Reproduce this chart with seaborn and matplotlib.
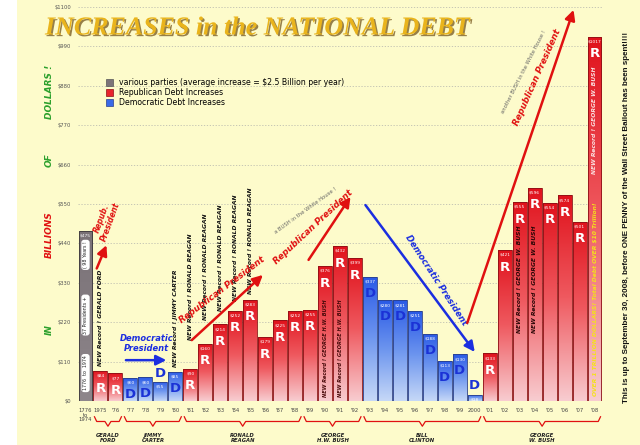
import numpy as np
import pandas as pd
import matplotlib
matplotlib.use("Agg")
import matplotlib.pyplot as plt
import matplotlib.patheffects as pe
import seaborn as sns
from matplotlib.colors import LinearSegmentedColormap
from matplotlib.patches import Patch, Rectangle
from matplotlib.transforms import blended_transform_factory

# ---- data (billions of dollars) ----
years = ["1776\nto\n1974", "1975", "'76", "'77", "'78", "'79", "'80", "'81", "'82", "'83",
         "'84", "'85", "'86", "'87", "'88", "'89", "'90", "'91", "'92", "'93", "'94",
         "'95", "'96", "'97", "'98", "'99", "2000", "'01", "'02", "'03", "'04", "'05",
         "'06", "'07", "'08"]
increase = [475, 84, 77, 64, 66, 54, 81, 90, 160, 214, 252, 283, 179, 225, 252, 255,
            376, 432, 399, 347, 281, 281, 251, 188, 113, 130, 18, 133, 421, 555, 596,
            554, 574, 501, 1017]
party = ["V"] + ["R"] * 2 + ["D"] * 4 + ["R"] * 12 + ["D"] * 8 + ["R"] * 8
value_labels = ["$475", "$84", "$77", "$60", "$60", "$55", "$85", "$90", "$160", "$214",
                "$252", "$283", "$179", "$225", "$252", "$255", "$376", "$432", "$399",
                "$337", "$280", "$281", "$251", "$188", "$113", "$130", "$18", "$133",
                "$421", "$555", "$596", "$554", "$574", "$501", "$1017"]
presidents = ["GERALD\nFORD", "JIMMY\nCARTER", "RONALD\nREAGAN", "GEORGE\nH.W. BUSH",
              "BILL\nCLINTON", "GEORGE\nW. BUSH"]
terms = [(1, 2), (3, 6), (7, 14), (15, 18), (19, 26), (27, 34)]
yticks = list(range(0, 1101, 110))
reagan_note_base = [170, 226, 250, 280, 300]

df = pd.DataFrame({"year": years, "increase": increase, "party": party})

BG = "#fdfbcb"
gradients = {
    "R": ["#f8ccd0", "#ef5a60", "#e0121c"],
    "D": ["#c6d8f7", "#6f97ef", "#2a5ae6"],
    "V": ["#8e868b", "#7a7277"],
}
edges = {"R": "#8b1015", "D": "#2a3f8a", "V": "#3c383a"}

fig = plt.figure(figsize=(6.4, 4.45), dpi=100, facecolor=BG)
fig.patches.append(Rectangle((0, 0), 17 / 640, 1, transform=fig.transFigure,
                             facecolor="white", edgecolor="none", zorder=0))
ax = fig.add_axes([78 / 640, 44 / 445, 524 / 640, 394 / 445])
ax.set_facecolor(BG)

sns.barplot(data=df, x="year", y="increase", hue="party", order=years,
            palette={"R": "#e0121c", "D": "#2a5ae6", "V": "#7a7277"},
            dodge=False, width=0.93, legend=False, ax=ax, zorder=3)

for patch in list(ax.patches):
    x0, w, h = patch.get_x(), patch.get_width(), patch.get_height()
    if np.isnan(h) or h <= 0:
        continue
    i = int(round(x0 + w / 2))
    p = party[i]
    cmap = LinearSegmentedColormap.from_list(p, gradients[p])
    img = ax.imshow(np.linspace(0, 1, 128).reshape(-1, 1), extent=[x0, x0 + w, 0, h],
                    origin="lower", cmap=cmap, aspect="auto", zorder=2.5)
    img.set_clip_path(patch)
    patch.set_facecolor("none")
    patch.set_edgecolor(edges[p])
    patch.set_linewidth(0.6)

ax.set_xlim(-0.5, len(years) - 0.5)
ax.set_ylim(0, 1100)
ax.set_yticks(yticks)
ax.set_yticklabels([f"${v}" for v in yticks], fontsize=3.8, color="#555555")
ax.set_xticks(range(len(years)))
ax.set_xticklabels(years, fontsize=3.8, color="#444444", linespacing=0.9)
ax.tick_params(length=0, pad=5)
ax.set_xlabel("")
ax.set_ylabel("")
for s in ax.spines.values():
    s.set_visible(False)
ax.yaxis.grid(True, linestyle=(0, (1.5, 2)), color="#bdbdb0", linewidth=0.6, zorder=0)
ax.set_axisbelow(True)

# value labels and party letters
for i, (v, lab, p) in enumerate(zip(increase, value_labels, party)):
    ax.text(i, v - 13, lab, ha="center", va="center", fontsize=3.2, color="white",
            zorder=5)
    if p == "R":
        ax.text(i, v - 48, "R", ha="center", va="center", fontsize=9.5,
                fontweight="bold", color="white", zorder=5)
    elif p == "D":
        dy = -46 if v > 60 else 24
        ax.text(i, v + dy, "D", ha="center", va="center", fontsize=9.5,
                fontweight="bold", color="#1b32d6", zorder=5)

# gray bar text boxes
box = dict(boxstyle="round,pad=0.35,rounding_size=0.6", fc="white", ec="none")
for yv, t in [(78, "1776  to  1974"), (240, "37 Presidents +"), (408, "( 98 Years !")]:
    ax.text(0, yv, t, rotation=90, ha="center", va="center", fontsize=3.4,
            color="#222222", bbox=box, zorder=6)

# vertical record notes
note = dict(rotation=90, ha="center", va="bottom", fontsize=4.3, style="italic",
            fontweight="bold", zorder=6)
ax.text(1, increase[1] + 14, "NEW Record ! GERALD FORD", color="#111111", **note)
ax.text(6, increase[6] + 14, "NEW Record ! JIMMY CARTER", color="#111111", **note)
for i, base in zip(range(7, 12), reagan_note_base):
    ax.text(i, base, "NEW Record ! RONALD REAGAN", color="#111111", **note)
small_note = dict(note, fontsize=3.7)
for i in (16, 17):
    ax.text(i, 12, "NEW Record ! GEORGE H.W. BUSH", color="#4a0a0a", **small_note)
for i in (29, 30):
    ax.text(i, 190, "NEW Record ! GEORGE W. BUSH", color="#2a0505", **note)
ax.text(34, 14, "OVER 1 TRILLION DOLLARS! Total Debt OVER $10 Trillion!",
        color="#f4e21a", **note)
top_note = dict(note, va="top")
ax.text(34, 935, "NEW Record ! GEORGE W. BUSH", color="#fbe0e0", **top_note)

# arrows with captions
def arrow(x0, y0, x1, y1, color):
    ax.annotate("", xy=(x1, y1), xytext=(x0, y0), zorder=7,
                arrowprops=dict(arrowstyle="-|>,head_length=0.6,head_width=0.3",
                                color=color, lw=1.8, shrinkA=0, shrinkB=0))

hand = dict(ha="center", va="center", fontweight="bold", style="italic", zorder=7)
arrow(2.7, 114, 5.4, 114, "#1b2ee0")
ax.text(4.1, 160, "Democratic\nPresident", color="#1b2ee0", fontsize=6.0,
        linespacing=1.2, **hand)
arrow(0.75, 370, 1.4, 435, "#e01010")
ax.text(1.4, 505, "Repub.\nPresident", color="#e01010", fontsize=5.5,
        rotation=70, linespacing=1.0, **hand)
arrow(7.1, 170, 11.85, 352, "#e01010")
ax.text(9.1, 310, "Republican President", color="#e01010", fontsize=6.3,
        rotation=37, **hand)
arrow(14.9, 394, 17.7, 570, "#e01010")
ax.text(15.2, 486, "Republican President", color="#e01010", fontsize=6.3,
        rotation=43, **hand)
ax.text(14.7, 532, "a BUSH in the White House !", color="#666666", fontsize=3.8,
        rotation=36, ha="center", va="center", zorder=7)
arrow(18.7, 547, 26.0, 137, "#1b2ee0")
ax.text(23.4, 338, "Democratic President", color="#1b2ee0", fontsize=6.3,
        rotation=-57, **hand)
arrow(25.5, 218, 32.6, 1092, "#e01010")
ax.text(30.2, 902, "Republican President", color="#e01010", fontsize=6.3,
        rotation=66, **hand)
ax.text(29.3, 919, "another BUSH in the White House !", color="#666666", fontsize=3.8,
        rotation=63, ha="center", va="center", zorder=7)

# braces with presidents' names
tr = blended_transform_factory(ax.transData, ax.transAxes)
for (a, b), name in zip(terms, presidents):
    x0, x1 = a - 0.4, b + 0.4
    m = (x0 + x1) / 2
    yb = -0.052
    xs = [x0, x0 + 0.15, m - 0.2, m, m + 0.2, x1 - 0.15, x1]
    ys = [yb + 0.012, yb, yb, yb - 0.012, yb, yb, yb + 0.012]
    ax.plot(xs, ys, color="#e01010", lw=0.9, transform=tr, clip_on=False)
    ax.text(m, yb - 0.03, name, transform=tr, ha="center", va="top", fontsize=3.8,
            fontweight="bold", style="italic", color="#222222", linespacing=1.0)

# axis words on the left
side = dict(rotation=90, ha="center", va="center", fontsize=6.5, fontweight="bold",
            style="italic")
fig.text(49 / 640, 1 - 330 / 445, "IN", color="#2ca02c", **side)
fig.text(49 / 640, 1 - 235 / 445, "BILLIONS", color="#e01010", **side)
fig.text(49 / 640, 1 - 160 / 445, "OF", color="#2ca02c", **side)
fig.text(49 / 640, 1 - 92 / 445, "DOLLARS !", color="#2ca02c", **side)

# title
fig.text(45 / 640, 1 - 28 / 445, "INCREASES in the NATIONAL DEBT",
         family="Liberation Serif", fontsize=18.7, fontweight="bold", style="italic",
         color="#e9b41c", ha="left", va="center",
         path_effects=[pe.SimplePatchShadow(offset=(1.2, -1.2),
                                            shadow_rgbFace="#6b4a10", alpha=0.7),
                       pe.Normal()])

# legend
handles = [Patch(facecolor="#7d7479", edgecolor="#555555", lw=0.5,
                 label="various parties (average increase = $2.5 Billion per year)"),
           Patch(facecolor="#e8242c", edgecolor="#8b1015", lw=0.5,
                 label="Republican Debt Increases"),
           Patch(facecolor="#3a6ae8", edgecolor="#2a3f8a", lw=0.5,
                 label="Democratic Debt Increases")]
fig.legend(handles=handles, loc="upper left", bbox_to_anchor=(106 / 640, 1 - 78 / 445),
           frameon=False, fontsize=5.6, handlelength=0.9, handleheight=0.9,
           handletextpad=0.8, labelspacing=0.15, borderaxespad=0, borderpad=0)

# note on the right
fig.text(626 / 640, 1 - 217 / 445,
         "This is up to September 30, 2008, before ONE PENNY of the Wall Street "
         "Bailout has been spent!!!!",
         family="Liberation Sans", rotation=90, ha="center", va="center", fontsize=5.75,
         fontweight="bold", color="#111111")

fig.savefig("out.png", dpi=100, facecolor=BG)
